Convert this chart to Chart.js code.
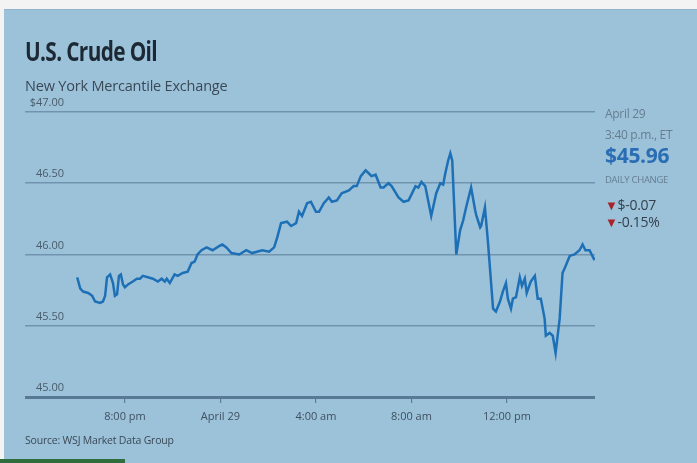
<!DOCTYPE html>
<html>
<head>
<meta charset="utf-8">
<script src="https://cdn.jsdelivr.net/npm/chart.js@4.4.1/dist/chart.umd.min.js"></script>
<style>
  html, body { margin: 0; padding: 0; }
  body { width: 697px; height: 463px; background: #f3f3f3; position: relative; overflow: hidden; font-family: "Open Sans", "Noto Sans", sans-serif; }
  #panel { position: absolute; left: 4px; top: 9px; right: 0; bottom: 0; background: #9cc2da; border-top: 1px solid #8fb4cc; }
  #strip { position: absolute; left: 0; bottom: 0; width: 125px; height: 4px; background: #2f6d3c; }
  canvas { position: absolute; left: 0; top: 0; }
  .t { position: absolute; white-space: nowrap; }
  #title { left: 25px; top: 33px; font: bold 26px "Open Sans", sans-serif; color: #1c2934; letter-spacing: -0.8px; transform: scaleX(0.8); transform-origin: left top; }
  #sub { left: 25px; top: 76px; font: 14.5px "Open Sans", sans-serif; color: #3a4956; letter-spacing: -0.2px; }
  #src { left: 25px; top: 433px; font: 10.5px "Open Sans", sans-serif; color: #3a4956; letter-spacing: -0.2px; }
  .side { left: 605px; color: #667d90; font-family: "Open Sans", sans-serif; letter-spacing: -0.3px; }
  #date { top: 105px; font-size: 12px; }
  #time { top: 126px; font-size: 12px; }
  #price { top: 141px; font-size: 21px; font-weight: bold; color: #2a6db4; }
  #dc { top: 173px; font-size: 9.5px; }
  #chg1 { top: 195px; font-size: 14px; color: #34414d; }
  #chg2 { top: 212px; font-size: 14px; color: #34414d; }
  .tri { color: #a8232a; font-size: 13px; }
</style>
</head>
<body>
<div id="panel"></div>
<div id="strip"></div>
<canvas id="lineChart" width="697" height="463"></canvas>
<div class="t" id="title">U.S. Crude Oil</div>
<div class="t" id="sub">New York Mercantile Exchange</div>
<div class="t side" id="date">April 29</div>
<div class="t side" id="time">3:40 p.m., ET</div>
<div class="t side" id="price">$45.96</div>
<div class="t side" id="dc">DAILY CHANGE</div>
<div class="t side" id="chg1"><span class="tri">&#9660;</span>$-0.07</div>
<div class="t side" id="chg2"><span class="tri">&#9660;</span>-0.15%</div>
<div class="t" id="src">Source: WSJ Market Data Group</div>
<script>
// hours counted from midnight April 28 (24 = midnight, 36 = noon April 29)
const times = [18.0, 18.13, 18.25, 18.46, 18.63, 18.75, 18.96, 19.08, 19.17, 19.25,
  19.38, 19.5, 19.58, 19.67, 19.75, 19.83, 19.92, 20.0, 20.13, 20.33,
  20.5, 20.63, 20.75, 20.96, 21.17, 21.38, 21.54, 21.67, 21.75, 21.88,
  22.08, 22.21, 22.42, 22.63, 22.79, 22.92, 23.04, 23.21, 23.42, 23.67,
  23.96, 24.08, 24.25, 24.46, 24.79, 25.08, 25.33, 25.75, 26.04, 26.25,
  26.38, 26.54, 26.79, 26.96, 27.17, 27.29, 27.42, 27.63, 27.79, 28.0,
  28.13, 28.33, 28.54, 28.67, 28.88, 29.08, 29.38, 29.58, 29.71, 29.88,
  30.08, 30.21, 30.33, 30.5, 30.71, 30.83, 31.04, 31.17, 31.46, 31.67,
  31.88, 32.0, 32.17, 32.29, 32.42, 32.58, 32.83, 33.04, 33.21, 33.33,
  33.42, 33.54, 33.63, 33.71, 33.88, 34.04, 34.17, 34.29, 34.5, 34.67,
  34.71, 34.88, 34.92, 35.08, 35.21, 35.42, 35.54, 35.71, 35.83, 35.96,
  36.04, 36.17, 36.25, 36.38, 36.54, 36.63, 36.75, 36.83, 37.0, 37.17,
  37.29, 37.42, 37.58, 37.63, 37.79, 37.92, 38.04, 38.21, 38.33, 38.46,
  38.63, 38.83, 39.04, 39.17, 39.29, 39.46, 39.67];
const prices = [45.84, 45.76, 45.74, 45.73, 45.71, 45.67, 45.66, 45.67, 45.71, 45.84,
  45.86, 45.80, 45.71, 45.72, 45.85, 45.86, 45.79, 45.77, 45.79, 45.81,
  45.83, 45.83, 45.85, 45.84, 45.83, 45.81, 45.83, 45.81, 45.83, 45.80,
  45.86, 45.85, 45.87, 45.88, 45.94, 45.95, 46.00, 46.03, 46.05, 46.03,
  46.06, 46.07, 46.05, 46.01, 46.00, 46.03, 46.01, 46.03, 46.02, 46.05,
  46.12, 46.22, 46.23, 46.20, 46.22, 46.30, 46.27, 46.36, 46.37, 46.30,
  46.30, 46.36, 46.40, 46.37, 46.38, 46.43, 46.45, 46.48, 46.48, 46.55,
  46.59, 46.57, 46.55, 46.56, 46.47, 46.47, 46.50, 46.48, 46.40, 46.37,
  46.38, 46.42, 46.48, 46.47, 46.51, 46.48, 46.27, 46.43, 46.50, 46.49,
  46.57, 46.66, 46.71, 46.66, 46.00, 46.17, 46.24, 46.33, 46.47, 46.31,
  46.28, 46.19, 46.20, 46.33, 46.08, 45.62, 45.60, 45.67, 45.74, 45.80,
  45.69, 45.62, 45.69, 45.70, 45.84, 45.78, 45.83, 45.73, 45.81, 45.85,
  45.69, 45.69, 45.55, 45.43, 45.45, 45.43, 45.31, 45.55, 45.87, 45.92,
  45.99, 46.00, 46.03, 46.07, 46.03, 46.03, 45.96];
const tickHours = [20, 24, 28, 32, 36];
const tickLabels = ['8:00 pm', 'April 29', '4:00 am', '8:00 am', '12:00 pm'];
const priceTicks = [45, 45.5, 46, 46.5, 47];
const priceLabels = ['45.00', '45.50', '46.00', '46.50', '$47.00'];

const ctxL = document.getElementById('lineChart').getContext('2d');
const myLineChart = new Chart(ctxL, {
  type: 'line',
  data: {
    datasets: [{
      data: times.map((t, i) => ({ x: t, y: prices[i] })),
      borderColor: '#1e70b6',
      borderWidth: 2.5,
      pointRadius: 0,
      tension: 0,
      fill: false
    }]
  },
  options: {
    responsive: false,
    animation: false,
    events: [],
    layout: { padding: { top: 112, left: 25, right: 102, bottom: 36 } },
    plugins: { legend: { display: false }, tooltip: { enabled: false } },
    scales: {
      x: {
        type: 'linear',
        min: 17.49,
        max: 39.69,
        afterFit: s => { s.height = 30; },
        afterBuildTicks: s => { s.ticks = tickHours.map(v => ({ value: v })); },
        border: { display: false },
        grid: { drawOnChartArea: false, drawTicks: true, tickLength: 6, color: '#5f7f99', lineWidth: 1.2 },
        ticks: {
          padding: 7,
          maxRotation: 0,
          autoSkip: false,
          color: '#3f5060',
          font: { family: 'Open Sans', size: 11 },
          callback: v => tickLabels[tickHours.indexOf(v)]
        }
      },
      y: {
        min: 45,
        max: 47,
        afterFit: s => { s.width = 40; },
        afterBuildTicks: s => { s.ticks = priceTicks.map(v => ({ value: v })); },
        border: { display: false },
        grid: {
          drawTicks: true,
          tickLength: 40,
          color: c => c.tick && c.tick.value === 45 ? '#587893' : '#7193ae',
          lineWidth: c => c.tick && c.tick.value === 45 ? 3 : 1.6
        },
        ticks: {
          padding: -39,
          labelOffset: -9,
          color: '#4a5b69',
          font: { family: 'Open Sans', size: 11 },
          callback: v => priceLabels[priceTicks.indexOf(v)]
        }
      }
    }
  }
});
</script>
</body>
</html>
